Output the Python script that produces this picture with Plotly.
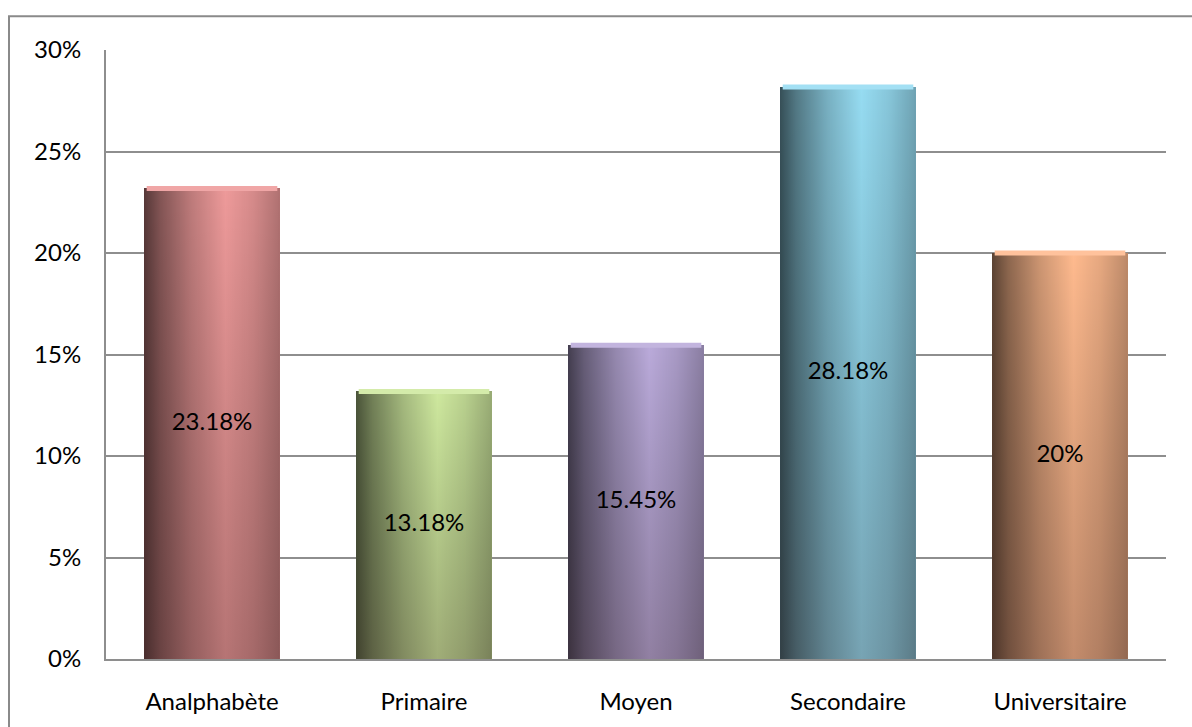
import plotly.graph_objects as go

categories = ["Analphabète", "Primaire", "Moyen", "Secondaire", "Universitaire"]
values = [23.18, 13.18, 15.45, 28.18, 20.0]
value_labels = ["23.18%", "13.18%", "15.45%", "28.18%", "20%"]
y_ticks = [0, 5, 10, 15, 20, 25, 30]
y_tick_labels = ["0%", "5%", "10%", "15%", "20%", "25%", "30%"]
bar_colors = [(238, 154, 154), (206, 232, 158), (186, 170, 218), (150, 220, 242), (255, 186, 142)]

BAR_W = 0.64
N = 136
FONT = "Lato"
FS = 24
GRID = "#8e8e8e"

# horizontal brightness profile of a cylinder
prof = [(0.0, 0.36), (0.12, 0.55), (0.35, 0.80), (0.6, 1.0), (0.8, 0.90), (1.0, 0.74)]


def bright(t):
    for (a, fa), (b, fb) in zip(prof[:-1], prof[1:]):
        if a <= t <= b:
            return fa + (fb - fa) * (t - a) / (b - a)
    return prof[-1][1]


def shade(c, f):
    return "rgb(%d,%d,%d)" % tuple(max(0, min(255, round(v * f))) for v in c)


def mix_white(c, a):
    return "rgb(%d,%d,%d)" % tuple(round(v + (255 - v) * a) for v in c)


xs = list(range(len(categories)))
fig = go.Figure()
for k in range(N):
    t = (k + 0.5) / N
    f = bright(t)
    off = -BAR_W / 2 + k * BAR_W / N
    fig.add_trace(go.Bar(
        x=xs, y=values,
        width=BAR_W / 2 - off,
        offset=off,
        marker=dict(color=[shade(c, f) for c in bar_colors], line=dict(width=0)),
        hoverinfo="skip", showlegend=False,
    ))

# vertical darkening overlay and top cap
for i, v in enumerate(values):
    x0, x1 = i - BAR_W / 2, i + BAR_W / 2
    fig.add_trace(go.Scatter(
        x=[x0, x1, x1, x0, x0], y=[0, 0, v, v, 0],
        mode="lines", line=dict(width=0), fill="toself",
        fillgradient=dict(type="vertical",
                          colorscale=[[0, "rgba(40,20,20,0.28)"], [1, "rgba(0,0,0,0)"]]),
        hoverinfo="skip", showlegend=False,
    ))
    c = bar_colors[i]
    fig.add_trace(go.Scatter(
        x=[x0 + 0.012, x1 - 0.012], y=[v, v], mode="lines",
        line=dict(color=mix_white(c, 0.12), width=5),
        hoverinfo="skip", showlegend=False,
    ))

fig.add_trace(go.Scatter(
    x=xs, y=[v / 2 for v in values], mode="text", text=value_labels,
    textfont=dict(family=FONT, size=FS, color="black"),
    hoverinfo="skip", showlegend=False,
))

fig.update_layout(
    width=1192, height=727,
    margin=dict(l=106, r=26, t=50, b=64),
    paper_bgcolor="white", plot_bgcolor="white",
    barmode="overlay", bargap=0,
    font=dict(family=FONT, size=FS, color="black"),
    xaxis=dict(range=[-0.5, 4.5], tickvals=xs, ticktext=categories,
               showgrid=False, zeroline=False, showline=True,
               linecolor=GRID, linewidth=2, ticks="", ticklabelstandoff=20,
               fixedrange=True),
    yaxis=dict(range=[0, 30], tickvals=y_ticks, ticktext=y_tick_labels,
               showgrid=True, gridcolor=GRID, gridwidth=2, zeroline=False,
               showline=True, linecolor=GRID, linewidth=2, ticks="",
               ticklabelstandoff=18, fixedrange=True),
    shapes=[dict(type="rect", xref="paper", yref="paper",
                 x0=(9 - 106) / 1060, x1=1.2, y0=-0.3, y1=1 + (50 - 16) / 613,
                 line=dict(color="#8a8a8a", width=2), layer="below")],
)

fig.write_html("out.html")
